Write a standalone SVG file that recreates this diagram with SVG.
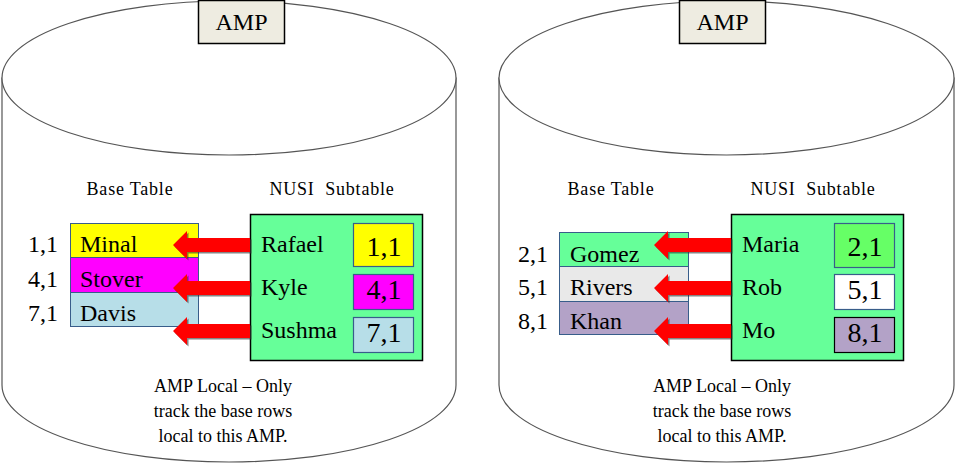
<svg xmlns="http://www.w3.org/2000/svg" width="955" height="464" viewBox="0 0 955 464">
<style>
.cyl{fill:#fff;stroke:#555;stroke-width:1.2}
.amp{fill:#EEECE1;stroke:#000;stroke-width:1.5}
.t{font-family:"Liberation Serif","Times New Roman",serif;fill:#000}
.amptxt{font-size:24px;text-anchor:middle}
.hdr{font-size:18px;text-anchor:middle;letter-spacing:0.8px}
.big{font-size:24px}
.val{font-size:28px;text-anchor:middle}
.lbl{font-size:24px;text-anchor:end}
.note{font-size:18px;text-anchor:middle}
.row{stroke:#385D8A;stroke-width:1}
.nusi{fill:#66FF99;stroke:#000;stroke-width:1.5}
.cell{stroke:#385D8A;stroke-width:1.2}
.arr{fill:#FF0000}
.sh{fill:#333;opacity:0.6}
</style>

<g id="cylinder-left">
<path class="cyl" d="M2,78 L2,385 A227,77 0 0 0 456,385 L456,78 Z"/>
<ellipse class="cyl" cx="229" cy="78" rx="227" ry="77"/>
</g>
<g id="cylinder-right">
<path class="cyl" d="M499,78 L499,385 A227.5,77 0 0 0 954,385 L954,78 Z"/>
<ellipse class="cyl" cx="726.5" cy="78" rx="227.5" ry="77"/>
</g>

<g id="amp-left">
<rect class="amp" x="198.5" y="0.5" width="86" height="43"/>
<text class="t amptxt" x="241.5" y="30">AMP</text>
</g>
<g id="amp-right">
<rect class="amp" x="679.5" y="0.5" width="86" height="43"/>
<text class="t amptxt" x="722.5" y="30">AMP</text>
</g>

<g id="labels-left">
<text class="t hdr" x="130" y="195">Base Table</text>
<text class="t hdr" x="332" y="195" xml:space="preserve">NUSI  Subtable</text>
</g>
<g id="labels-right">
<text class="t hdr" x="611" y="195">Base Table</text>
<text class="t hdr" x="813" y="195" xml:space="preserve">NUSI  Subtable</text>
</g>

<g id="base-left">
<rect class="row" x="70.5" y="223.5" width="128" height="34" fill="#FFFF00"/>
<rect class="row" x="70.5" y="257.5" width="128" height="35" fill="#FF00FF"/>
<rect class="row" x="70.5" y="292.5" width="128" height="34" fill="#B7DEE8"/>
<text class="t lbl" x="58" y="252">1,1</text>
<text class="t lbl" x="58" y="287">4,1</text>
<text class="t lbl" x="58" y="321">7,1</text>
<text class="t big" x="80" y="252">Minal</text>
<text class="t big" x="80" y="287">Stover</text>
<text class="t big" x="80" y="321">Davis</text>
</g>

<g id="base-right">
<rect class="row" x="559.5" y="232.5" width="129" height="34" fill="#66FF99"/>
<rect class="row" x="559.5" y="266.5" width="129" height="35" fill="#E9E9E9"/>
<rect class="row" x="559.5" y="301.5" width="129" height="33" fill="#B3A2C7"/>
<text class="t lbl" x="548" y="262">2,1</text>
<text class="t lbl" x="548" y="295">5,1</text>
<text class="t lbl" x="548" y="329">8,1</text>
<text class="t big" x="570" y="262">Gomez</text>
<text class="t big" x="570" y="295">Rivers</text>
<text class="t big" x="570" y="329">Khan</text>
</g>

<g id="nusi-left">
<rect class="nusi" x="250.5" y="214.5" width="172" height="146"/>
<rect class="cell" x="353.5" y="223.5" width="60" height="43" fill="#FFFF00"/>
<rect class="cell" x="353.5" y="274.5" width="60" height="35" fill="#FF00FF"/>
<rect class="cell" x="353.5" y="317.5" width="60" height="35" fill="#B7DEE8"/>
<text class="t big" x="261" y="252">Rafael</text>
<text class="t big" x="261" y="295">Kyle</text>
<text class="t big" x="261" y="338">Sushma</text>
<text class="t val" x="384" y="256">1,1</text>
<text class="t val" x="384" y="299">4,1</text>
<text class="t val" x="384" y="342">7,1</text>
</g>

<g id="nusi-right">
<rect class="nusi" x="731.5" y="214.5" width="172" height="146"/>
<rect class="cell" x="834.5" y="223.5" width="60" height="44" fill="#66FF66"/>
<rect class="cell" x="834.5" y="274.5" width="60" height="35" fill="#FFFFFF"/>
<rect x="834.5" y="317.5" width="60" height="35" fill="#B3A2C7" stroke="#000" stroke-width="1.2"/>
<text class="t big" x="742" y="252">Maria</text>
<text class="t big" x="742" y="295">Rob</text>
<text class="t big" x="742" y="338">Mo</text>
<text class="t val" x="865" y="256">2,1</text>
<text class="t val" x="865" y="299">5,1</text>
<text class="t val" x="865" y="342">8,1</text>
</g>

<g id="connectors">
<g transform="translate(1.5,1.5)">
<polygon class="sh" points="173,245 187,231 187,238 250,238 250,252 187,252 187,259"/>
<polygon class="sh" points="173,288 187,274 187,281 250,281 250,295 187,295 187,302"/>
<polygon class="sh" points="173,331 187,317 187,324 250,324 250,338 187,338 187,345"/>
<polygon class="sh" points="654,245 668,231 668,238 731,238 731,252 668,252 668,259"/>
<polygon class="sh" points="654,288 668,274 668,281 731,281 731,295 668,295 668,302"/>
<polygon class="sh" points="654,331 668,317 668,324 731,324 731,338 668,338 668,345"/>
</g>
<polygon class="arr" points="173,245 187,231 187,238 250,238 250,252 187,252 187,259"/>
<polygon class="arr" points="173,288 187,274 187,281 250,281 250,295 187,295 187,302"/>
<polygon class="arr" points="173,331 187,317 187,324 250,324 250,338 187,338 187,345"/>
<polygon class="arr" points="654,245 668,231 668,238 731,238 731,252 668,252 668,259"/>
<polygon class="arr" points="654,288 668,274 668,281 731,281 731,295 668,295 668,302"/>
<polygon class="arr" points="654,331 668,317 668,324 731,324 731,338 668,338 668,345"/>
</g>

<g id="note-left">
<text class="t note" x="223" y="392">AMP Local – Only</text>
<text class="t note" x="223" y="417">track the base rows</text>
<text class="t note" x="223" y="442">local to this AMP.</text>
</g>
<g id="note-right">
<text class="t note" x="722" y="392">AMP Local – Only</text>
<text class="t note" x="722" y="417">track the base rows</text>
<text class="t note" x="722" y="442">local to this AMP.</text>
</g>
</svg>
